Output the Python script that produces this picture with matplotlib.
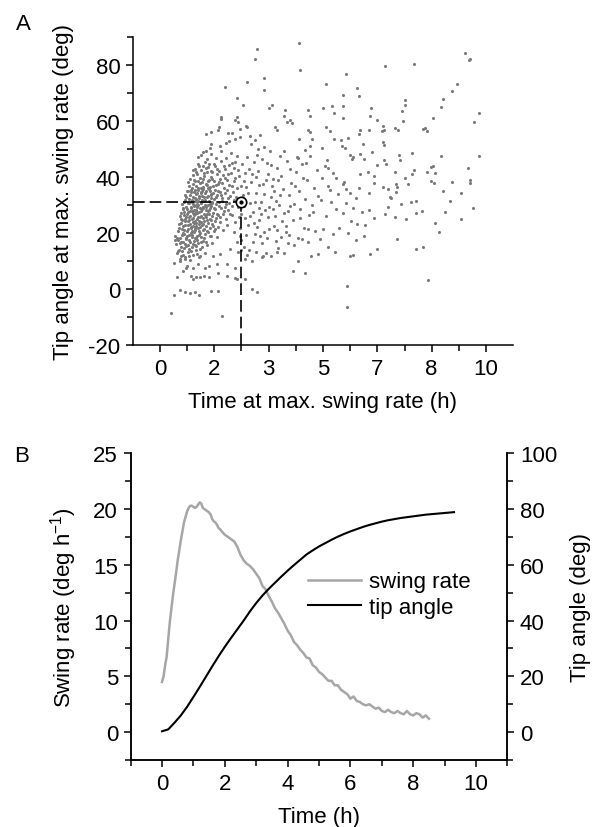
import matplotlib
matplotlib.use("Agg")
import matplotlib.pyplot as plt
from matplotlib.ticker import FixedLocator, MultipleLocator, FormatStrFormatter
import numpy as np

plt.rcParams['font.family'] = ['Liberation Sans', 'DejaVu Sans']
plt.rcParams['font.size'] = 16
plt.rcParams['axes.unicode_minus'] = False

# Panel A: time and tip angle at the moment of max. swing rate (one dot per plant)
peak_points = [
    # low outliers and bottom of the cluster
    (0.33, -8.5), (1.89, -9.7), (5.73, -6.3), (5.73, 1.0), (8.23, 3.2),
    (4.07, 6.4), (4.44, 5.7), (4.24, 10.2),
    (0.44, -2.1), (0.61, -0.2), (0.78, -1.2), (0.92, -1.5), (1.06, -1.2),
    (1.20, -2.1), (1.55, -0.8), (1.79, -0.8), (2.35, 3.6), (2.81, 0.0),
    (2.97, -1.0), (0.51, 4.2), (0.70, 6.3), (0.79, 7.7), (0.95, 4.7),
    (1.00, 3.6), (1.10, 4.4), (1.23, 4.2), (1.36, 4.5), (1.49, 4.3),
    (1.79, 5.6), (2.05, 4.7), (2.30, 3.9), (2.61, 3.6), (0.44, 9.5),
    (0.61, 10.1), (0.77, 10.7), (0.82, 8.1), (1.00, 7.7), (1.18, 9.0),
    (1.38, 7.6), (1.51, 8.1), (1.74, 8.9), (2.05, 8.9), (2.30, 7.7),
    (2.61, 10.7), (2.81, 9.9), (3.12, 11.3), (2.45, 19.0), (2.35, 16.8),
    (2.15, 14.2), (1.84, 12.5), (1.63, 11.9), (1.23, 11.9),
    (2.50, 14.0), (2.68, 12.3), (2.95, 13.4), (3.15, 12.0), (3.40, 11.7),
    (3.60, 13.1),
    # dense cluster, y 10-14
    (0.52, 12.8), (0.61, 10.9), (0.68, 13.5), (0.77, 11.6), (0.85, 13.1),
    (0.93, 10.4), (1.02, 12.2), (1.12, 13.8), (1.21, 11.3), (0.58, 14.0),
    (0.55, 13.6), (0.72, 12.1), (0.80, 15.3), (0.96, 13.7), (1.07, 15.9),
    (1.15, 12.6), (1.28, 15.1), (0.64, 11.8), (0.88, 11.9), (1.38, 13.0),
    # y 14-20
    (0.49, 16.2), (0.56, 17.5), (0.63, 15.1), (0.70, 16.8), (0.74, 14.6),
    (0.81, 17.9), (0.86, 15.7), (0.92, 16.9), (0.98, 14.9), (1.04, 17.3),
    (1.09, 15.4), (1.16, 16.6), (1.24, 14.3), (1.33, 17.1), (1.45, 15.8),
    (0.66, 17.0), (0.89, 14.2),
    (0.53, 18.3), (0.60, 16.6), (0.69, 19.3), (0.77, 16.2), (0.84, 18.8),
    (0.90, 17.5), (0.97, 19.5), (1.01, 16.1), (1.07, 18.4), (1.14, 17.7),
    (1.21, 19.4), (1.27, 16.9), (1.36, 18.2), (1.42, 17.0), (1.52, 19.1),
    (1.61, 16.4), (1.75, 18.7), (0.45, 17.4),
    # y 18-24
    (0.47, 19.1), (0.55, 20.8), (0.62, 18.4), (0.68, 21.5), (0.73, 19.6),
    (0.79, 18.2), (0.83, 20.9), (0.88, 19.3), (0.94, 21.8), (0.99, 18.7),
    (1.03, 20.4), (1.08, 21.9), (1.13, 19.0), (1.19, 20.6), (1.25, 18.5),
    (1.31, 21.2), (1.38, 19.8), (1.47, 20.3), (1.58, 18.9), (1.69, 21.4),
    (0.71, 20.1), (0.96, 19.9), (1.10, 18.1),
    (0.59, 22.0), (0.66, 23.7), (0.74, 21.0), (0.78, 22.9), (0.86, 21.6),
    (0.92, 23.2), (0.97, 20.7), (1.01, 22.6), (1.06, 21.2), (1.12, 23.6),
    (1.17, 21.7), (1.23, 20.2), (1.27, 23.9), (1.34, 21.6), (1.40, 22.7),
    (1.44, 20.9), (1.52, 22.0), (1.60, 23.3), (1.67, 20.6), (1.78, 22.3),
    (1.92, 21.1), (2.05, 23.0),
    # y 22-28
    (0.58, 23.4), (0.64, 25.1), (0.71, 22.6), (0.76, 24.3), (0.80, 25.8),
    (0.85, 23.0), (0.90, 24.7), (0.95, 22.3), (1.00, 25.5), (1.05, 23.8),
    (1.10, 22.5), (1.14, 24.9), (1.19, 23.2), (1.24, 25.6), (1.29, 22.8),
    (1.35, 24.2), (1.41, 25.9), (1.48, 23.5), (1.56, 24.6), (1.64, 22.4),
    (1.73, 25.3), (1.85, 23.9), (0.88, 25.9), (1.02, 24.0), (1.22, 22.1),
    (1.33, 23.1),
    (0.61, 26.1), (0.68, 24.6), (0.73, 27.5), (0.78, 25.2), (0.83, 26.9),
    (0.87, 24.4), (0.93, 27.8), (0.97, 25.0), (1.03, 26.6), (1.07, 24.2),
    (1.11, 27.6), (1.16, 25.7), (1.20, 24.5), (1.25, 27.9), (1.31, 25.4),
    (1.37, 26.5), (1.43, 24.6), (1.50, 26.9), (1.54, 25.1), (1.61, 26.2),
    (1.68, 24.3), (1.76, 27.0), (1.83, 25.6), (1.93, 26.8), (2.03, 25.2),
    (2.15, 26.9),
    # y 26-32
    (0.63, 27.2), (0.70, 28.8), (0.75, 26.5), (0.81, 29.4), (0.86, 27.6),
    (0.91, 26.2), (0.95, 28.9), (1.00, 27.1), (1.04, 29.7), (1.08, 26.8),
    (1.12, 28.3), (1.17, 29.9), (1.21, 27.4), (1.26, 26.3), (1.30, 28.6),
    (1.35, 27.0), (1.40, 29.3), (1.45, 26.7), (1.51, 28.1), (1.57, 29.6),
    (1.63, 27.3), (1.70, 28.7), (1.78, 26.4), (1.87, 29.1), (1.96, 27.8),
    (2.08, 28.4), (0.98, 28.0), (1.15, 27.2), (1.33, 29.0), (1.48, 27.9),
    (0.67, 30.4), (0.72, 29.1), (0.78, 31.7), (0.84, 28.5), (0.89, 30.9),
    (0.94, 29.4), (0.99, 31.2), (1.03, 28.3), (1.09, 30.0), (1.13, 29.2),
    (1.18, 31.5), (1.23, 28.9), (1.27, 30.6), (1.32, 29.5), (1.37, 31.8),
    (1.42, 28.4), (1.47, 30.1), (1.53, 29.0), (1.59, 31.3), (1.65, 28.9),
    (1.72, 30.5), (1.80, 29.8), (1.89, 31.4), (1.99, 29.5), (2.11, 30.8),
    (2.22, 29.7),
    # y 30-36
    (0.74, 31.3), (0.80, 32.9), (0.87, 30.6), (0.92, 33.5), (0.97, 31.8),
    (1.01, 30.3), (1.06, 32.6), (1.11, 33.9), (1.15, 31.1), (1.20, 32.4),
    (1.25, 30.8), (1.30, 33.2), (1.34, 31.6), (1.39, 30.2), (1.44, 32.8),
    (1.49, 31.4), (1.55, 33.7), (1.61, 30.9), (1.67, 32.2), (1.74, 33.6),
    (1.82, 31.0), (1.91, 32.7), (2.02, 30.5), (2.14, 33.1), (2.27, 31.9),
    (1.08, 31.5), (1.28, 32.0), (1.52, 30.4),
    (0.78, 33.8), (0.85, 34.9), (0.90, 32.2), (0.96, 35.3), (1.00, 33.0),
    (1.05, 34.7), (1.10, 32.1), (1.16, 35.6), (1.21, 33.4), (1.26, 34.3),
    (1.31, 35.8), (1.36, 32.8), (1.41, 34.9), (1.46, 33.2), (1.52, 35.1),
    (1.58, 32.5), (1.64, 34.5), (1.71, 32.9), (1.79, 35.2), (1.88, 33.6),
    (1.98, 34.4), (2.10, 32.4), (2.24, 34.8),
    # y 34-40
    (0.82, 35.1), (0.89, 36.8), (0.95, 34.6), (1.02, 37.4), (1.07, 35.5),
    (1.13, 34.2), (1.18, 36.3), (1.23, 37.9), (1.28, 35.0), (1.33, 36.6),
    (1.38, 34.4), (1.44, 37.2), (1.50, 35.7), (1.56, 34.1), (1.62, 36.9),
    (1.69, 35.3), (1.77, 37.6), (1.85, 34.8), (1.95, 36.2), (2.07, 35.4),
    (2.20, 37.0), (1.25, 34.7), (1.47, 36.0),
    (0.87, 38.4), (0.97, 36.3), (1.04, 39.1), (1.10, 36.9), (1.17, 38.8),
    (1.25, 36.1), (1.31, 39.4), (1.40, 37.7), (1.47, 38.7), (1.54, 36.6),
    (1.61, 39.3), (1.71, 37.3), (1.80, 38.4), (1.90, 37.8), (2.00, 39.6),
    (2.12, 37.2), (2.26, 38.6),
    # y 38-46
    (0.93, 39.2), (1.00, 40.8), (1.08, 38.5), (1.15, 41.3), (1.22, 39.7),
    (1.29, 38.2), (1.36, 40.5), (1.43, 41.8), (1.50, 39.0), (1.58, 40.2),
    (1.66, 38.6), (1.74, 41.1), (1.83, 39.5), (1.93, 40.7), (2.05, 38.9),
    (2.18, 41.5), (2.31, 39.8),
    (1.02, 42.7), (1.12, 41.9), (1.20, 43.9), (1.34, 41.6), (1.42, 43.2),
    (1.51, 44.8), (1.61, 41.8), (1.70, 43.9), (1.81, 42.2), (1.95, 44.1),
    (2.08, 41.3), (2.22, 45.1), (2.40, 42.5),
    (1.06, 43.1), (1.16, 44.8), (1.27, 42.6), (1.38, 45.3), (1.47, 43.5),
    (1.56, 42.2), (1.66, 44.6), (1.76, 43.0), (1.88, 45.7), (2.00, 42.8),
    (2.13, 44.2), (2.28, 43.4), (1.32, 44.0),
    (1.18, 47.2), (1.31, 48.9), (1.45, 46.5), (1.58, 48.2), (1.72, 47.0),
    (1.86, 49.3), (2.01, 46.8), (2.17, 48.5), (2.35, 47.4),
    # sparse top of the cluster
    (1.26, 48.0), (1.40, 49.5), (1.53, 50.5), (1.84, 51.2), (1.56, 52.0),
    (2.03, 52.3), (2.30, 53.6), (2.12, 53.0), (2.45, 54.3), (2.08, 55.9),
    (2.20, 55.9), (1.40, 55.4), (1.56, 56.3), (1.80, 58.1), (2.67, 58.1),
    (2.30, 60.3), (2.40, 59.7), (2.35, 61.6), (1.87, 60.9), (1.87, 61.6),
    (2.56, 65.7), (2.36, 68.4), (1.99, 72.1), (2.68, 74.1), (3.20, 75.5),
    (3.20, 71.2), (2.97, 86.0), (2.92, 82.1), (3.35, 64.9), (3.45, 65.7),
    (3.54, 58.0), (3.58, 57.0), (1.79, 56.9), (2.45, 57.2), (2.64, 58.4),
    (2.76, 54.6), (3.00, 50.2),
    # x 2.2-4
    (2.22, 26.5), (2.31, 24.1), (2.38, 29.2), (2.44, 21.7), (2.50, 27.0),
    (2.55, 33.8), (2.60, 25.3), (2.64, 36.4), (2.70, 22.9), (2.75, 30.7),
    (2.80, 38.2), (2.84, 27.6), (2.90, 19.8), (2.95, 34.5), (3.00, 42.1),
    (3.05, 24.8), (3.10, 31.3), (3.16, 37.6), (3.22, 28.2), (3.28, 45.0),
    (3.34, 21.5), (3.40, 33.0), (3.46, 39.5), (3.52, 26.0), (3.58, 43.4),
    (3.64, 30.1), (3.70, 18.7), (3.76, 35.8), (2.47, 17.6), (2.58, 15.2),
    (2.73, 13.9), (2.87, 45.6), (2.99, 48.0), (3.13, 16.3), (3.25, 12.8),
    (3.37, 49.3), (3.49, 22.7), (3.61, 14.6), (2.41, 40.3), (2.53, 44.8),
    (2.66, 47.3), (2.78, 51.7), (2.92, 53.4), (3.08, 55.1), (3.19, 50.8),
    (3.31, 41.2), (3.43, 36.7), (3.55, 31.4), (3.67, 47.7), (3.79, 27.3),
    (2.35, 36.1), (2.62, 41.5), (2.88, 23.6), (3.03, 28.9), (3.18, 20.4),
    (3.30, 25.7), (3.72, 40.6), (3.80, 12.9), (3.80, 49.5), (3.83, 63.9),
    (3.80, 61.7), (3.90, 59.6), (3.98, 60.4), (4.05, 59.2), (3.95, 19.5),
    (3.85, 20.3),
    (2.26, 20.3), (2.34, 32.8), (2.42, 25.7), (2.48, 36.9), (2.57, 29.8),
    (2.63, 19.4), (2.69, 34.2), (2.77, 26.1), (2.83, 41.1), (2.91, 31.0),
    (2.97, 22.1), (3.04, 37.3), (3.11, 27.0), (3.20, 33.9), (3.27, 18.1),
    (3.35, 29.4), (3.42, 44.3), (3.51, 35.1), (3.59, 21.0), (3.68, 33.5),
    (3.75, 24.3), (2.30, 45.5), (2.58, 38.8), (2.72, 43.0), (2.96, 40.2),
    (3.14, 46.6), (3.26, 38.9), (3.48, 28.6), (3.62, 39.1), (2.40, 13.2),
    (2.86, 16.7), (3.07, 19.0), (3.57, 17.2),
    # x 3.8-5
    (3.86, 22.4), (3.92, 27.9), (3.97, 33.6), (4.03, 38.1), (4.08, 24.7),
    (4.12, 30.5), (4.17, 41.9), (4.22, 18.3), (4.26, 35.2), (4.31, 28.6),
    (4.36, 44.7), (4.41, 22.0), (4.46, 32.3), (4.51, 38.9), (4.56, 26.4),
    (4.61, 47.5), (4.66, 30.0), (4.71, 36.1), (4.76, 20.9), (4.81, 42.6),
    (3.89, 45.8), (3.94, 16.4), (4.00, 29.8), (4.14, 37.0), (4.29, 25.4),
    (4.39, 39.6), (4.53, 21.4), (4.68, 27.5), (4.84, 33.1), (4.10, 15.6),
    (4.35, 17.8), (4.55, 16.9), (4.64, 11.7), (4.85, 12.4), (4.92, 17.8),
    (4.27, 53.6), (4.24, 46.7), (4.45, 49.8), (4.60, 56.2), (4.54, 56.9),
    (4.67, 53.6), (4.54, 64.2), (4.61, 62.0), (4.27, 88.1), (4.30, 78.2),
    (4.97, 50.6), (4.60, 51.1), (3.99, 43.0), (4.19, 47.2), (4.49, 45.0),
    # x 5-6.6
    (5.38, 13.4), (5.82, 11.8), (5.92, 12.2), (5.08, 73.4), (5.72, 76.9),
    (6.05, 72.0), (6.11, 69.2), (5.61, 69.4), (5.01, 64.9), (5.28, 65.6),
    (5.62, 65.4), (5.35, 63.0), (5.62, 61.0), (6.48, 64.6), (6.45, 61.8),
    (5.08, 57.8), (5.21, 56.5), (6.10, 55.5), (6.12, 57.0), (6.42, 56.7),
    (5.35, 53.6), (5.55, 53.2), (5.77, 54.0), (5.58, 51.0), (5.68, 50.4),
    (6.23, 51.8), (5.83, 47.8), (5.88, 46.5), (5.92, 47.2), (6.14, 48.4),
    (6.26, 46.6), (6.51, 49.0), (5.12, 46.3), (5.15, 43.3), (5.15, 37.0),
    (5.30, 41.5), (5.22, 35.5), (5.45, 34.0), (5.60, 37.5), (5.65, 38.4),
    (5.72, 35.8), (5.83, 34.2), (5.40, 39.8), (6.13, 41.3), (6.38, 42.0),
    (6.57, 40.5), (6.57, 37.9), (6.10, 36.0), (6.40, 34.5), (6.02, 17.4),
    (5.86, 24.5), (6.05, 23.2), (6.30, 22.8), (5.09, 26.3), (4.95, 31.7),
    (5.40, 28.5), (5.62, 27.3), (5.70, 30.8), (5.92, 29.0), (6.00, 32.5),
    (6.20, 27.4), (6.40, 28.2), (5.25, 31.0), (5.50, 22.0), (5.00, 21.5),
    (5.30, 19.6), (6.45, 12.6), (6.55, 25.5), (5.78, 20.1), (6.25, 19.0),
    (5.15, 15.0), (4.98, 39.7), (5.05, 44.0),
    # x 6.6-10
    (6.66, 14.2), (7.86, 14.5), (8.07, 14.9), (7.26, 18.0), (8.57, 20.5),
    (8.43, 23.6), (6.90, 27.0), (7.20, 25.6), (7.55, 25.0), (7.86, 27.2),
    (8.05, 28.0), (8.73, 27.5), (9.23, 25.2), (6.83, 36.5), (6.98, 35.8),
    (7.05, 33.0), (7.10, 32.6), (7.23, 37.6), (7.25, 34.6), (7.60, 37.6),
    (7.70, 31.0), (7.86, 31.6), (8.30, 38.8), (8.67, 35.0), (8.97, 38.3),
    (9.23, 34.3), (9.51, 38.0), (6.66, 44.2), (6.93, 44.6), (7.20, 41.7),
    (7.26, 36.4), (7.53, 39.8), (7.73, 41.0), (7.80, 42.5), (6.87, 46.3),
    (7.33, 48.0), (7.36, 46.0), (7.73, 48.8), (8.30, 43.8), (8.38, 43.9),
    (8.20, 42.0), (8.45, 41.5), (8.40, 37.9), (9.45, 43.4), (9.51, 38.9),
    (8.61, 47.6), (9.79, 47.4), (6.83, 58.4), (6.87, 57.0), (6.80, 56.5),
    (7.20, 57.6), (7.30, 57.0), (8.08, 57.3), (8.12, 57.6), (8.20, 56.5),
    (6.84, 52.6), (6.87, 51.5), (6.66, 60.3), (7.46, 60.1), (8.37, 61.0),
    (9.64, 59.8), (7.43, 63.7), (9.79, 63.1), (7.53, 65.7), (7.53, 67.6),
    (8.63, 65.2), (8.67, 68.0), (8.97, 70.8), (9.10, 73.4), (6.89, 79.7),
    (7.80, 80.4), (9.35, 84.5), (9.51, 82.4), (9.47, 82.0), (7.00, 29.5),
    (7.40, 30.5), (8.90, 31.5), (9.60, 29.0),
]
peak_time = np.array([p[0] for p in peak_points])
peak_angle = np.array([p[1] for p in peak_points])

# median plant marked with the circle and dashed guide lines
median_time = 2.5
median_angle = 31.2

# Panel B: mean swing rate (left axis) and tip angle (right axis) over time
rate_time = [
    0.00, 0.05, 0.10, 0.15, 0.20, 0.25, 0.30, 0.35, 0.40, 0.45, 0.50, 0.55,
    0.60, 0.65, 0.70, 0.75, 0.80, 0.85, 0.90, 0.95, 1.00, 1.05, 1.10, 1.15,
    1.20, 1.25, 1.30, 1.35, 1.40, 1.45, 1.50, 1.55, 1.60, 1.65, 1.70, 1.75,
    1.80, 1.85, 1.90, 2.00, 2.10, 2.20, 2.30, 2.40, 2.50, 2.60, 2.70, 2.80,
    2.90, 3.00, 3.10, 3.20, 3.30, 3.40, 3.50, 3.60, 3.70, 3.80, 3.90, 4.00,
    4.10, 4.20, 4.30, 4.40, 4.50, 4.60, 4.70, 4.80, 4.90, 5.00, 5.10, 5.20,
    5.30, 5.40, 5.50, 5.60, 5.70, 5.80, 5.90, 6.00, 6.10, 6.20, 6.30, 6.40,
    6.50, 6.60, 6.70, 6.80, 6.90, 7.00, 7.10, 7.20, 7.30, 7.40, 7.50, 7.60,
    7.70, 7.80, 7.90, 8.00, 8.10, 8.20, 8.30, 8.40, 8.50,
]
swing_rate = [
    4.5, 5.0, 6.0, 6.8, 8.4, 9.9, 11.1, 12.3, 13.3, 14.3, 15.4, 16.3,
    17.2, 18.0, 18.8, 19.3, 19.8, 20.1, 20.3, 20.3, 20.2, 20.1, 20.2, 20.4,
    20.6, 20.5, 20.1, 20.0, 19.9, 19.8, 19.7, 19.5, 19.1, 18.9, 18.8, 18.6,
    18.3, 18.2, 18.0, 17.7, 17.5, 17.3, 17.1, 16.6, 15.9, 15.4, 15.1, 14.9,
    14.6, 14.2, 13.8, 13.1, 12.8, 12.2, 11.7, 11.1, 10.7, 10.2, 9.7, 9.1,
    8.7, 8.1, 7.8, 7.4, 7.1, 6.7, 6.6, 6.0, 5.8, 5.4, 5.2, 4.9,
    4.6, 4.6, 4.2, 4.2, 3.8, 3.6, 3.4, 3.0, 3.2, 2.8, 2.7, 2.5,
    2.4, 2.5, 2.3, 2.1, 2.2, 1.9, 1.8, 2.0, 1.8, 1.7, 1.9, 1.7,
    1.6, 1.9, 1.6, 1.5, 1.7, 1.6, 1.3, 1.5, 1.2,
]
angle_time = [
    0.0, 0.2, 0.4, 0.6, 0.8, 1.0, 1.2, 1.4, 1.6, 1.8, 2.0, 2.2, 2.4, 2.6,
    2.8, 3.0, 3.2, 3.4, 3.6, 3.8, 4.0, 4.2, 4.4, 4.6, 4.8, 5.0, 5.2, 5.4,
    5.6, 5.8, 6.0, 6.2, 6.4, 6.6, 6.8, 7.0, 7.2, 7.4, 7.6, 7.8, 8.0, 8.2,
    8.4, 8.6, 8.8, 9.0, 9.3,
]
tip_angle = [
    0.3, 1.0, 3.4, 6.0, 9.1, 12.6, 16.2, 19.9, 23.6, 27.2, 30.6, 33.8, 36.9, 40.0,
    43.3, 46.3, 49.0, 51.4, 53.6, 55.8, 57.9, 59.9, 61.8, 63.7, 65.2, 66.6, 67.8, 69.0,
    70.1, 71.1, 72.0, 72.8, 73.6, 74.3, 74.9, 75.5, 76.0, 76.4, 76.8, 77.1, 77.4, 77.7,
    78.0, 78.2, 78.4, 78.6, 78.9,
]

fig = plt.figure(figsize=(5.95, 8.28), dpi=100)


def style_axis(ax):
    for side in ['left', 'bottom', 'right', 'top']:
        ax.spines[side].set_linewidth(1.1)
    ax.tick_params(which='major', direction='out', length=5, width=1.1, pad=4)
    ax.tick_params(which='minor', direction='out', length=4, width=1.1)


# ---- A ----
axA = fig.add_axes([0.2232, 0.5821, 0.6393, 0.3716])
axA.scatter(peak_time, peak_angle, s=5, color='#7a7a7a', linewidths=0, zorder=2)
axA.plot([-0.8333, median_time], [median_angle, median_angle], color='black',
         lw=1.2, linestyle=(0, (7, 3)), zorder=3)
axA.plot([median_time, median_time], [-20, median_angle - 1.5], color='black',
         lw=1.2, linestyle=(0, (7, 3)), zorder=3)
axA.plot([median_time], [median_angle], marker='o', ms=7.5, mfc='white',
         mec='black', mew=1.2, zorder=4)
axA.plot([median_time], [median_angle], marker='o', ms=2, color='black', zorder=5)
axA.set_xlim(-0.8333, 10.8333)
axA.set_ylim(-20, 90)
axA.xaxis.set_major_locator(FixedLocator([0, 5 / 3, 10 / 3, 5, 20 / 3, 25 / 3, 10]))
axA.xaxis.set_major_formatter(FormatStrFormatter('%.0f'))
axA.xaxis.set_minor_locator(MultipleLocator(5 / 6))
axA.yaxis.set_major_locator(MultipleLocator(20))
axA.yaxis.set_minor_locator(MultipleLocator(10))
axA.spines['top'].set_visible(False)
axA.spines['right'].set_visible(False)
style_axis(axA)
axA.set_xlabel('Time at max. swing rate (h)', labelpad=9)
axA.set_ylabel('Tip angle at max. swing rate (deg)', labelpad=10)
fig.text(0.04, 0.971, 'A', fontsize=16, va='center', ha='center')

# ---- B ----
axB = fig.add_axes([0.2195, 0.0809, 0.6333, 0.3704])
axR = axB.twinx()
axB.plot(rate_time, swing_rate, color='#a6a6a6', lw=1.8, label='swing rate')
axR.plot(angle_time, tip_angle, color='black', lw=1.5, label='tip angle')
axB.set_xlim(-1, 11)
axB.set_ylim(-2.5, 25)
axR.set_ylim(-10, 100)
axB.xaxis.set_major_locator(MultipleLocator(2))
axB.xaxis.set_minor_locator(MultipleLocator(1))
axB.yaxis.set_major_locator(MultipleLocator(5))
axB.yaxis.set_minor_locator(MultipleLocator(2.5))
axR.yaxis.set_major_locator(MultipleLocator(20))
axR.yaxis.set_minor_locator(MultipleLocator(10))
axB.spines['top'].set_visible(False)
axR.spines['top'].set_visible(False)
style_axis(axB)
style_axis(axR)
axB.set_xlabel('Time (h)', labelpad=9)
axB.set_ylabel('Swing rate (deg h$^{\\mathregular{-1}}$)', labelpad=10)
axR.set_ylabel('Tip angle (deg)', labelpad=9)

handles = axB.get_lines() + axR.get_lines()
axB.legend(handles, [h.get_label() for h in handles], loc='upper left',
           bbox_to_anchor=(0.47, 0.615), frameon=False, borderpad=0,
           borderaxespad=0, handlelength=2.4, handletextpad=0.35,
           labelspacing=0.2, fontsize=16)
fig.text(0.037, 0.449, 'B', fontsize=16, va='center', ha='center')

fig.savefig('out.png', dpi=100)
